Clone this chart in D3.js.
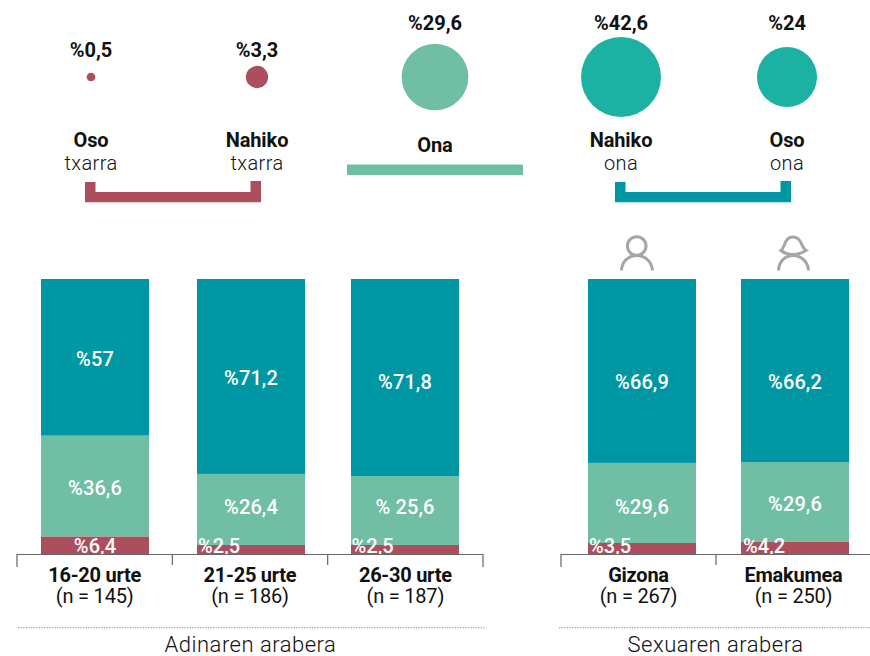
<!DOCTYPE html>
<html><head><meta charset="utf-8">
<script src="https://cdn.jsdelivr.net/npm/d3@7"></script>
<style>
html,body{margin:0;padding:0;background:#fff}
svg{display:block}
text{font-family:Roboto,sans-serif;fill:#111}
</style></head><body>
<svg id="c" width="870" height="656"></svg>
<script>
const ratingBold = ["Oso","Nahiko","Ona","Nahiko","Oso"];
const ratingLight = ["txarra","txarra","","ona","ona"];
const ratingValues = [0.5,3.3,29.6,42.6,24];
const ratingColors = ["#ad4e5e","#ad4e5e","#70bea4","#1bb2a3","#1bb2a3"];
const ageCats = ["16-20 urte","21-25 urte","26-30 urte"];
const ageN = ["(n = 145)","(n = 186)","(n = 187)"];
const sexCats = ["Gizona","Emakumea"];
const sexN = ["(n = 267)","(n = 250)"];
// printed labels
const badLabels = ["%6,4","%2,5","%2,5","%3,5","%4,2"];
const midLabels = ["%36,6","%26,4","% 25,6","%29,6","%29,6"];
const goodLabels = ["%57","%71,2","%71,8","%66,9","%66,2"];
// segment heights as drawn in the picture (percent of bar height)
const badDrawn = [6.5,3.4,3.4,4.1,4.5];
const midDrawn = [36.6,25.8,25.0,29.1,29.0];
const goodDrawn = [56.9,70.8,71.6,66.8,66.5];
const colBad="#ad4e5e",colMid="#70bea4",colGood="#0097a4";

const fmt=v=>"%"+String(v).replace(".",",");
const svg=d3.select("#c");
const SIZE=20;

// rating row
const rx=d3.scaleOrdinal().domain(d3.range(5)).range([91,257,435,621,787]);
const r=d3.scaleSqrt().domain([0,42.6]).range([0,40]);
const cy=77;
ratingValues.forEach((v,i)=>{
  svg.append("circle").attr("cx",rx(i)).attr("cy",cy).attr("r",r(v)).attr("fill",ratingColors[i]);
  const top=(v>=24)?30:57;
  svg.append("text").attr("x",rx(i)).attr("y",top).attr("text-anchor","middle")
    .attr("font-size",SIZE).attr("font-weight",700).attr("letter-spacing",0).text(fmt(v));
  const by=ratingLight[i]?147:152;
  svg.append("text").attr("x",rx(i)).attr("y",by).attr("text-anchor","middle")
    .attr("font-size",SIZE).attr("font-weight",700).attr("letter-spacing",-0.1).text(ratingBold[i]);
  if(ratingLight[i]) svg.append("text").attr("x",rx(i)).attr("y",170).attr("text-anchor","middle")
    .attr("font-size",SIZE).attr("font-weight",300).attr("letter-spacing",0.4).text(ratingLight[i]);
});
// brackets
function bracket(x0,x1,color){
  svg.append("path").attr("fill",color)
    .attr("d",`M${x0},182H${x0+10.5}V192H${x1-10.5}V181H${x1}V202.3H${x0}Z`);
}
bracket(85,261,colBad);
bracket(615,791,colGood);
svg.append("rect").attr("x",347).attr("y",164.5).attr("width",176).attr("height",10.5).attr("fill",colMid);

// bars
const y=d3.scaleLinear().domain([0,100]).range([554.3,279]);
const cats=[...ageCats,...sexCats];
const xBar=d3.scaleOrdinal().domain(cats).range([41,197,351,588,741]);
const bw=108;
const ageSpan=d3.scaleBand().domain(ageCats).range([17,483]);
const sexSpan=d3.scaleBand().domain(sexCats).range([561,871]);
const stack=d3.stack().keys(["bad","mid","good"])(cats.map((c,i)=>({bad:badDrawn[i],mid:midDrawn[i],good:goodDrawn[i]})));
const cols=[colBad,colMid,colGood];
stack.forEach((s,k)=>{
  svg.append("g").selectAll("rect").data(s).join("rect")
    .attr("x",(d,i)=>xBar(cats[i])).attr("width",bw)
    .attr("y",d=>y(d[1])).attr("height",d=>y(d[0])-y(d[1])).attr("fill",cols[k]);
});
const wt=(x,yy,t,a)=>svg.append("text").attr("x",x).attr("y",yy).attr("text-anchor",a||"middle")
  .attr("font-size",SIZE).attr("font-weight",500).attr("letter-spacing",0.1).style("fill","#fff").text(t);
const goodBase=[366,385,389,389,389];
const midBase=[495,514,514,514,511];
const badX=[95,198,351.5,589,743];
cats.forEach((c,i)=>{
  const x=xBar(c);
  wt(x+bw/2,goodBase[i],goodLabels[i]);
  wt(x+bw/2,midBase[i],midLabels[i]);
  if(i==0) wt(badX[i],552.7,badLabels[i]);
  else wt(badX[i],552.7,badLabels[i],"start");
});

// axes
function axis(span,cs){
  const s=span.range()[0], st=span.step();
  svg.append("line").attr("x1",s).attr("x2",span.range()[1]).attr("y1",554.5).attr("y2",554.5).attr("stroke","#666").attr("stroke-width",1.2);
  d3.range(cs.length+1).forEach(i=>{
    const xx=s+i*st;
    const end=(i==0||i==cs.length);
    svg.append("line").attr("x1",xx).attr("x2",xx).attr("y1",554).attr("y2",end?567:565).attr("stroke","#666").attr("stroke-width",1.2);
  });
}
axis(ageSpan,ageCats);
axis(sexSpan,sexCats);
function labels(span,cs,ns){
  cs.forEach((c,i)=>{
    const xx=span(c)+span.bandwidth()/2;
    svg.append("text").attr("x",xx).attr("y",581.7).attr("text-anchor","middle").attr("font-size",SIZE).attr("font-weight",700).attr("letter-spacing",-0.25).text(c);
    svg.append("text").attr("x",xx).attr("y",602.7).attr("text-anchor","middle").attr("font-size",SIZE).attr("font-weight",400).attr("letter-spacing",-0.2).text(ns[i]);
  });
}
labels(ageSpan,ageCats,ageN);
labels(sexSpan,sexCats,sexN);

// group footers
[[18,486,"Adinaren arabera",250.5],[559,870,"Sexuaren arabera",715.5]].forEach(d=>{
  svg.append("line").attr("x1",d[0]).attr("x2",d[1]).attr("y1",627.7).attr("y2",627.7)
    .attr("stroke","#a8a8a8").attr("stroke-width",1.2).attr("stroke-dasharray","1.3 1.3");
  svg.append("text").attr("x",d[3]).attr("y",651.7).attr("text-anchor","middle").attr("font-size",22).attr("font-weight",300).attr("letter-spacing",0.5).text(d[2]);
});

// person icons
const ic="#a6a6a6";
const man=svg.append("g").attr("fill","none").attr("stroke",ic).attr("stroke-width",3);
man.append("circle").attr("cx",636.7).attr("cy",246).attr("r",9.3);
man.append("path").attr("d","M621.5,270.5C622,261 629,255.5 636.7,255.5C644.5,255.5 651.5,261 652.5,270.5");
const wom=svg.append("g").attr("fill","none").attr("stroke",ic).attr("stroke-width",3);
wom.append("path").attr("d","M781,250.5C785,248 784,237 793,237C802,237 801,248 806,250.5C802,253 798,254.5 793,254.5C788,254.5 784,253 781,250.5Z");
wom.append("path").attr("d","M778.5,270.5C779,261.5 785,255.5 793,255.5C801,255.5 808,261.5 808.5,270.5");
</script>
</body></html>
